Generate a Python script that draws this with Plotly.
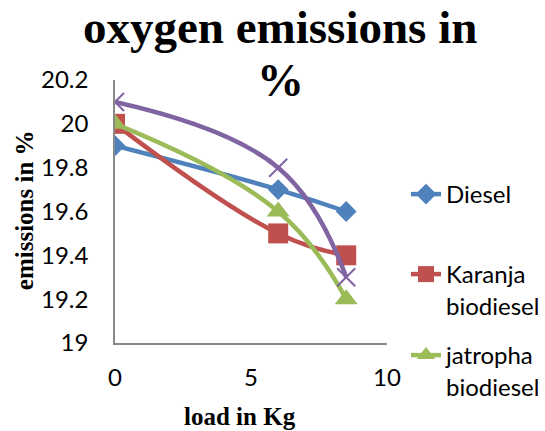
import plotly.graph_objects as go

# Load (kg) and oxygen emissions (%)
load = [0, 6, 8.5]
diesel = [19.9, 19.7, 19.6]
karanja = [20.0, 19.5, 19.4]
jatropha = [20.0, 19.6, 19.2]
blend = [20.1, 19.8, 19.3]

series = [
    ("Diesel", diesel, "#4F81BD", "diamond", 16, "legend", True),
    ("Karanja<br>biodiesel", karanja, "#C0504D", "square", 20, "legend2", True),
    ("jatropha<br>biodiesel", jatropha, "#9BBB59", "triangle-up", 20, "legend3", True),
    ("blend", blend, "#8064A2", "x-thin", 18, "legend", False),
]

fig = go.Figure()
for name, vals, color, sym, size, leg, show in series:
    marker = dict(symbol=sym, size=size, color=color)
    if sym == "x-thin":
        marker.update(line=dict(color=color, width=2))
    fig.add_trace(go.Scatter(
        x=load, y=vals, name=name, mode="lines+markers",
        line=dict(color=color, width=4.5, shape="spline", smoothing=1.2),
        marker=marker, legend=leg, showlegend=show,
    ))

tick_font = dict(family="Lato", size=24, color="black")
axis_common = dict(
    showgrid=False, zeroline=False, showline=True,
    linecolor="#898989", linewidth=1.5, ticks="",
    tickfont=tick_font,
)

leg_common = dict(
    font=dict(family="Lato", size=24, color="black"),
    bgcolor="rgba(0,0,0,0)", xanchor="left", yanchor="top",
    valign="top", xref="container", yref="container", x=0.745,
)

fig.update_layout(
    width=545, height=431,
    margin=dict(l=115, r=158, t=80, b=88, autoexpand=False),
    plot_bgcolor="white", paper_bgcolor="white",
    xaxis=dict(range=[0, 10], tickvals=[0, 5, 10], ticklabelstandoff=12, **axis_common),
    yaxis=dict(range=[19, 20.2], tickvals=[19, 19.2, 19.4, 19.6, 19.8, 20, 20.2],
               ticktext=["19", "19.2", "19.4", "19.6", "19.8", "20", "20.2"],
               ticklabelstandoff=20, **axis_common),
    legend=dict(y=1 - 172 / 431, **leg_common),
    legend2=dict(y=1 - 252 / 431, **leg_common),
    legend3=dict(y=1 - 333 / 431, **leg_common),
    annotations=[
        dict(text="<b>oxygen emissions in</b>", x=0.605, y=1.2, xref="paper", yref="paper",
             xanchor="center", yanchor="middle", showarrow=False,
             font=dict(family="Liberation Serif", size=47, color="black")),
        dict(text="<b>%</b>", x=0.61, y=1.0, xref="paper", yref="paper",
             xanchor="center", yanchor="middle", showarrow=False,
             font=dict(family="Liberation Serif", size=47, color="black")),
        dict(text="<b>emissions in %</b>", x=-0.33, y=0.506, xref="paper", yref="paper",
             xanchor="center", yanchor="middle", showarrow=False, textangle=-90,
             font=dict(family="Liberation Serif", size=25, color="black")),
        dict(text="<b>load in Kg</b>", x=0.46, y=-0.281, xref="paper", yref="paper",
             xanchor="center", yanchor="middle", showarrow=False,
             font=dict(family="Liberation Serif", size=25, color="black")),
    ],
)

fig.write_html("out.html")
